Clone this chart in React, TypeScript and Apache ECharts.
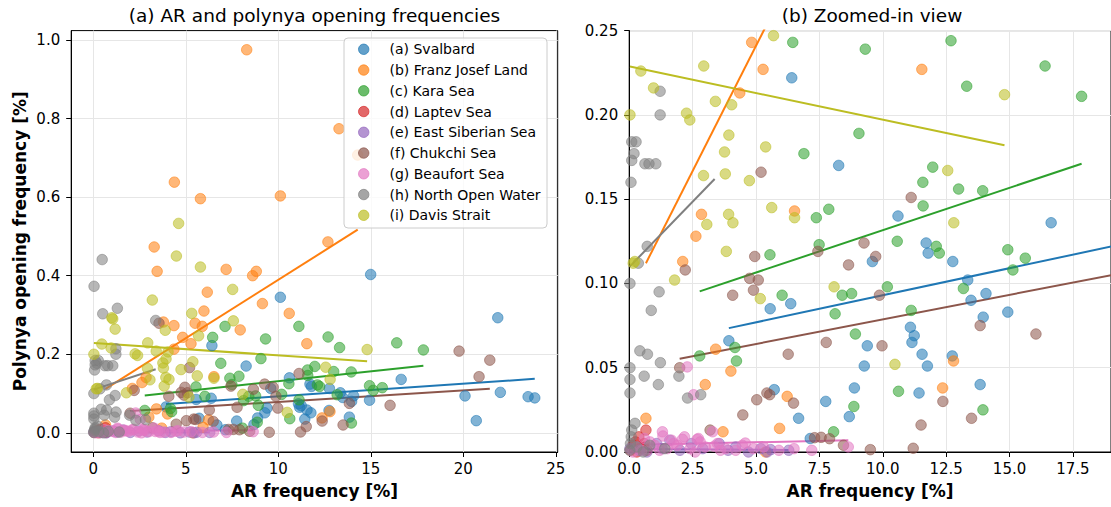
import React, { useEffect, useRef } from "react";
import * as echarts from "echarts";

const regionNames = [
  "(a) Svalbard",
  "(b) Franz Josef Land",
  "(c) Kara Sea",
  "(d) Laptev Sea",
  "(e) East Siberian Sea",
  "(f) Chukchi Sea",
  "(g) Beaufort Sea",
  "(h) North Open Water",
  "(i) Davis Strait",
];
const regionRGB = [
  [31, 119, 180],
  [255, 127, 14],
  [44, 160, 44],
  [214, 39, 40],
  [148, 103, 189],
  [140, 86, 75],
  [227, 119, 194],
  [127, 127, 127],
  [188, 189, 34],
];

// [AR frequency %, polynya opening frequency %]
const svalbard = [
  [14.99, 0.403], [10.11, 0.345], [21.86, 0.293], [6.41, 0.222], [8.26, 0.17], [10.6, 0.14], [16.64, 0.136],
  [11.71, 0.124], [11.79, 0.118], [9.59, 0.113], [12.76, 0.113], [13.35, 0.102], [13.48, 0.09], [14.07, 0.094],
  [13.96, 0.08], [14.93, 0.083], [5.56, 0.085], [6.37, 0.088], [11.09, 0.074], [11.24, 0.069], [11.15, 0.065],
  [3.93, 0.066], [9.39, 0.063], [11.55, 0.058], [9.27, 0.051], [11.76, 0.051], [12.74, 0.057], [13.84, 0.04],
  [11.43, 0.035], [8.88, 0.038], [5.72, 0.037], [7.75, 0.03], [8.68, 0.021], [6.68, 0.02], [7.14, 0.008],
  [20.09, 0.094], [22.0, 0.103], [23.5, 0.092], [23.86, 0.089], [20.7, 0.031],
];
const franzJosef = [
  [8.29, 0.975], [13.28, 0.774], [14.29, 0.707], [4.38, 0.638], [5.79, 0.596], [10.11, 0.603], [12.68, 0.486],
  [3.29, 0.473], [3.45, 0.411], [7.18, 0.416], [8.61, 0.4], [8.81, 0.411], [6.16, 0.358], [9.14, 0.329],
  [5.98, 0.31], [10.59, 0.304], [3.79, 0.282], [4.36, 0.273], [5.5, 0.279], [5.89, 0.271], [7.94, 0.262],
  [11.54, 0.227], [4.83, 0.243], [5.28, 0.227], [4.36, 0.213], [6.52, 0.143], [2.85, 0.141], [2.63, 0.128],
  [2.11, 0.113], [3.41, 0.061], [4.01, 0.048], [3.0, 0.04], [12.79, 0.054], [12.36, 0.038], [6.23, 0.033],
  [5.93, 0.014], [3.7, 0.012], [0.66, 0.02], [5.38, 0.0],
];
const karaSea = [
  [7.12, 0.271], [11.11, 0.271], [12.69, 0.244], [6.45, 0.243], [9.31, 0.239], [16.4, 0.229], [13.31, 0.217],
  [17.84, 0.211], [9.06, 0.189], [6.89, 0.177], [11.97, 0.169], [11.58, 0.16], [12.99, 0.156], [13.94, 0.155],
  [11.59, 0.146], [7.87, 0.144], [7.38, 0.139], [10.57, 0.125], [7.49, 0.123], [12.11, 0.122], [12.23, 0.118],
  [5.55, 0.117], [14.93, 0.12], [15.62, 0.115], [15.13, 0.108], [10.18, 0.098], [13.18, 0.097], [6.03, 0.093],
  [8.4, 0.093], [8.77, 0.094], [8.12, 0.082], [11.12, 0.084], [8.92, 0.07], [4.17, 0.062], [4.23, 0.054],
  [2.78, 0.057], [10.62, 0.036], [8.86, 0.027], [13.95, 0.025], [8.06, 0.012],
];
const laptevSea = [
  [0.66, 0.013], [0.38, 0.009], [0.15, 0.004], [0.45, 0.002], [0.05, 0.001], [0.3, 0.0], [0.6, 0.005],
  [0.25, 0.006], [0.7, 0.001],
];
const eastSiberianSea = [
  [0.03, 0.002], [0.4, 0.001], [1.08, 0.005], [1.3, 0.002], [1.6, 0.007], [2.0, 0.001], [2.45, 0.005],
  [2.9, 0.002], [3.55, 0.005], [3.9, 0.001], [4.2, 0.003], [4.7, 0.0], [5.19, 0.002], [5.44, 0.0],
  [5.58, 0.0014], [6.29, 0.001], [0.7, 0.0],
];
const chukchiSea = [
  [19.77, 0.208], [21.43, 0.185], [20.85, 0.143], [3.55, 0.279], [5.2, 0.166], [11.12, 0.151], [9.26, 0.124],
  [7.44, 0.119], [4.95, 0.116], [9.72, 0.116], [8.65, 0.111], [2.21, 0.108], [4.75, 0.103], [5.09, 0.102],
  [4.08, 0.093], [4.9, 0.096], [9.87, 0.093], [13.84, 0.075], [16.04, 0.07], [7.77, 0.065], [9.97, 0.063],
  [6.27, 0.058], [1.99, 0.05], [5.43, 0.035], [5.54, 0.034], [5.03, 0.031], [6.48, 0.029], [12.37, 0.03],
  [4.48, 0.022], [13.5, 0.02], [11.51, 0.016], [3.19, 0.013], [7.31, 0.0085], [7.57, 0.0087], [7.9, 0.0079],
  [8.45, 0.004], [9.51, 0.0014], [11.2, 0.0022],
];
const beaufortSea = [
  [2.29, 0.0505], [2.54, 0.034], [1.31, 0.012], [1.33, 0.0095], [2.18, 0.009], [2.73, 0.008], [2.8, 0.006],
  [3.29, 0.012], [8.64, 0.003], [0.82, 0.006], [1.67, 0.007], [2.1, 0.0075], [2.68, 0.0075], [3.48, 0.005],
  [4.46, 0.004], [5.3, 0.003], [4.58, 0.0053], [3.35, 0.0034], [0.3, 0.003], [0.5, 0.001], [1.0, 0.004],
  [1.5, 0.002], [1.9, 0.004], [2.4, 0.002], [3.0, 0.003], [3.8, 0.002], [4.2, 0.001], [4.9, 0.002],
  [5.9, 0.001], [6.5, 0.002], [7.2, 0.001], [0.15, 0.0], [1.2, 0.001], [2.6, 0.0], [3.6, 0.001],
  [1.75, 0.005], [0.6, 0.008],
];
const northOpenWater = [
  [0.48, 0.441], [0.04, 0.373], [0.51, 0.303], [1.3, 0.317], [3.37, 0.286], [1.22, 0.214], [1.22, 0.2],
  [0.1, 0.184], [0.27, 0.184], [0.19, 0.177], [0.1, 0.173], [0.62, 0.171], [0.78, 0.171], [1.05, 0.171],
  [0.07, 0.16], [0.71, 0.122], [0.36, 0.112], [0.03, 0.1], [1.18, 0.095], [0.87, 0.084], [0.42, 0.06],
  [0.72, 0.058], [1.23, 0.053], [0.03, 0.05], [0.03, 0.043], [0.59, 0.045], [1.96, 0.045], [1.15, 0.04],
  [0.03, 0.035], [2.3, 0.032], [2.82, 0.034], [0.23, 0.017], [0.1, 0.013], [0.08, 0.009], [0.05, 0.005],
  [0.3, 0.003], [0.81, 0.004], [0.02, 0.001], [0.55, 0.0], [1.4, 0.002],
];
const davisStrait = [
  [4.61, 0.533], [4.49, 0.45], [5.79, 0.422], [7.53, 0.365], [3.19, 0.338], [5.32, 0.304], [1.0, 0.293],
  [1.05, 0.29], [1.18, 0.264], [3.89, 0.261], [7.57, 0.285], [5.69, 0.247], [0.46, 0.226], [0.03, 0.2],
  [0.96, 0.216], [2.94, 0.229], [2.26, 0.201], [2.39, 0.197], [3.4, 0.208], [4.04, 0.206], [3.93, 0.188],
  [3.76, 0.178], [5.38, 0.181], [2.93, 0.164], [3.79, 0.165], [4.74, 0.161], [5.62, 0.145], [6.52, 0.139],
  [3.92, 0.141], [3.06, 0.135], [4.09, 0.136], [0.16, 0.112], [0.22, 0.113], [3.83, 0.119], [1.79, 0.102],
  [5.17, 0.091], [8.08, 0.098], [10.48, 0.052], [14.8, 0.212], [12.56, 0.167], [12.8, 0.136],
];
const regionPoints = [svalbard, franzJosef, karaSea, laptevSea, eastSiberianSea, chukchiSea, beaufortSea, northOpenWater, davisStrait];

// fitted trend lines: [start, end]
const trendSvalbard = [[3.93, 0.0735], [23.86, 0.1375]];
const trendFranzJosef = [[0.66, 0.112], [14.29, 0.517]];
const trendKara = [[2.78, 0.0953], [17.84, 0.171]];
const trendLaptev = [[0.05, 0.003], [0.66, 0.006]];
const trendEastSiberian = [[0.03, 0.0018], [6.29, 0.0012]];
const trendChukchi = [[1.99, 0.0553], [21.43, 0.112]];
const trendBeaufort = [[0.15, 0.0043], [8.64, 0.0069]];
const trendNorthWater = [[0.02, 0.11], [3.37, 0.162]];
const trendDavis = [[0.03, 0.2287], [14.8, 0.182]];
const regionTrends = [trendSvalbard, trendFranzJosef, trendKara, trendLaptev, trendEastSiberian, trendChukchi, trendBeaufort, trendNorthWater, trendDavis];

const leftXTicks = [0, 5, 10, 15, 20, 25];
const leftYTicks = [0, 0.2, 0.4, 0.6, 0.8, 1.0];
const rightXTicks = [0, 2.5, 5, 7.5, 10, 12.5, 15, 17.5];
const rightYTicks = [0, 0.05, 0.1, 0.15, 0.2, 0.25];

const FONT = "DejaVu Sans";

function rgba(c: number[], a: number) {
  return `rgba(${c[0]},${c[1]},${c[2]},${a})`;
}

function makeXAxis(grid: number, min: number, max: number, ticks: number[], digits: number) {
  return {
    type: "value",
    gridIndex: grid,
    min,
    max,
    name: "AR frequency [%]",
    nameLocation: "middle",
    nameGap: 30,
    nameTextStyle: { fontFamily: FONT, fontSize: 17, fontWeight: "bold", color: "#000" },
    axisLine: { show: true, onZero: false, lineStyle: { color: "#000", width: 1 } },
    axisTick: { show: true, length: 5, customValues: ticks, lineStyle: { color: "#000" } },
    axisLabel: {
      customValues: ticks,
      fontFamily: FONT,
      fontSize: 15,
      color: "#000",
      margin: 9,
      formatter: (v: number) => v.toFixed(digits),
    },
    splitLine: { show: true, lineStyle: { color: "#e6e6e6", width: 1 } },
  };
}

function makeYAxis(grid: number, min: number, max: number, ticks: number[], digits: number, name: string) {
  return {
    type: "value",
    gridIndex: grid,
    min,
    max,
    name,
    nameLocation: "middle",
    nameGap: 43,
    nameTextStyle: { fontFamily: FONT, fontSize: 17, fontWeight: "bold", color: "#000" },
    axisLine: { show: true, onZero: false, lineStyle: { color: "#000", width: 1 } },
    axisTick: { show: true, length: 5, customValues: ticks, lineStyle: { color: "#000" } },
    axisLabel: {
      customValues: ticks,
      fontFamily: FONT,
      fontSize: 15,
      color: "#000",
      margin: 11,
      formatter: (v: number) => v.toFixed(digits),
    },
    splitLine: { show: true, lineStyle: { color: "#e6e6e6", width: 1 } },
  };
}

export default function App() {
  const ref = useRef<HTMLDivElement>(null);

  useEffect(() => {
    if (!ref.current) return;
    const chart = echarts.init(ref.current, undefined, { renderer: "svg" });

    const series: any[] = [];
    for (let g = 0; g < 2; g++) {
      regionNames.forEach((name, i) => {
        const c = regionRGB[i];
        series.push({
          type: "scatter",
          name,
          xAxisIndex: g,
          yAxisIndex: g,
          data: regionPoints[i],
          symbol: "circle",
          symbolSize: 10.5,
          clip: true,
          z: 2,
          itemStyle: { color: rgba(c, 0.7), borderColor: rgba(c, 0.7), borderWidth: 1 },
          emphasis: { disabled: true },
        });
        series.push({
          type: "line",
          name,
          xAxisIndex: g,
          yAxisIndex: g,
          data: regionTrends[i],
          showSymbol: false,
          symbol: "none",
          clip: true,
          z: 2,
          lineStyle: { color: rgba(c, 1), width: 2 },
          emphasis: { disabled: true },
        });
      });
    }

    const rowY0 = 49.3;
    const rowStep = 20.75;
    const legendChildren: any[] = [
      {
        type: "rect",
        shape: { x: 344, y: 38, width: 203, height: 190, r: 4 },
        style: { fill: "rgba(255,255,255,0.8)", stroke: "#cccccc", lineWidth: 1 },
        z: 100,
      },
    ];
    regionNames.forEach((name, i) => {
      const c = regionRGB[i];
      legendChildren.push({
        type: "circle",
        shape: { cx: 363.7, cy: rowY0 + i * rowStep, r: 5.2 },
        style: { fill: rgba(c, 0.7), stroke: rgba(c, 0.7), lineWidth: 1 },
        z: 101,
      });
      legendChildren.push({
        type: "text",
        x: 389.5,
        y: rowY0 + i * rowStep,
        style: {
          text: name,
          fontFamily: FONT,
          fontSize: 14,
          fill: "#000",
          textAlign: "left",
          textVerticalAlign: "middle",
        },
        z: 101,
      });
    });

    chart.setOption({
      animation: false,
      backgroundColor: "#ffffff",
      grid: [
        { left: 71.2, right: 553.3, top: 30.6, bottom: 55, show: true, borderColor: "#000", borderWidth: 1, backgroundColor: "transparent" },
        { left: 629.2, right: -4, top: 30.6, bottom: 55, show: true, borderColor: "#000", borderWidth: 1, backgroundColor: "transparent" },
      ],
      xAxis: [
        makeXAxis(0, -1.195, 25.1, leftXTicks, 0),
        makeXAxis(1, 0, 19.0, rightXTicks, 1),
      ],
      yAxis: [
        makeYAxis(0, -0.04875, 1.02375, leftYTicks, 1, "Polynya opening frequency [%]"),
        makeYAxis(1, 0, 0.25, rightYTicks, 2, ""),
      ],
      series,
      graphic: [
        {
          type: "text",
          x: 314.5,
          y: 15.7,
          style: {
            text: "(a) AR and polynya opening frequencies",
            fontFamily: FONT,
            fontSize: 18.5,
            fill: "#000",
            textAlign: "center",
            textVerticalAlign: "middle",
          },
          z: 100,
        },
        {
          type: "text",
          x: 872,
          y: 15.7,
          style: {
            text: "(b) Zoomed-in view",
            fontFamily: FONT,
            fontSize: 18.5,
            fill: "#000",
            textAlign: "center",
            textVerticalAlign: "middle",
          },
          z: 100,
        },
        { type: "group", children: legendChildren, z: 100 },
      ],
    });

    return () => chart.dispose();
  }, []);

  return (
    <div
      ref={ref}
      style={{ position: "fixed", left: 0, top: 0, width: 1111, height: 507, background: "#fff" }}
    />
  );
}
